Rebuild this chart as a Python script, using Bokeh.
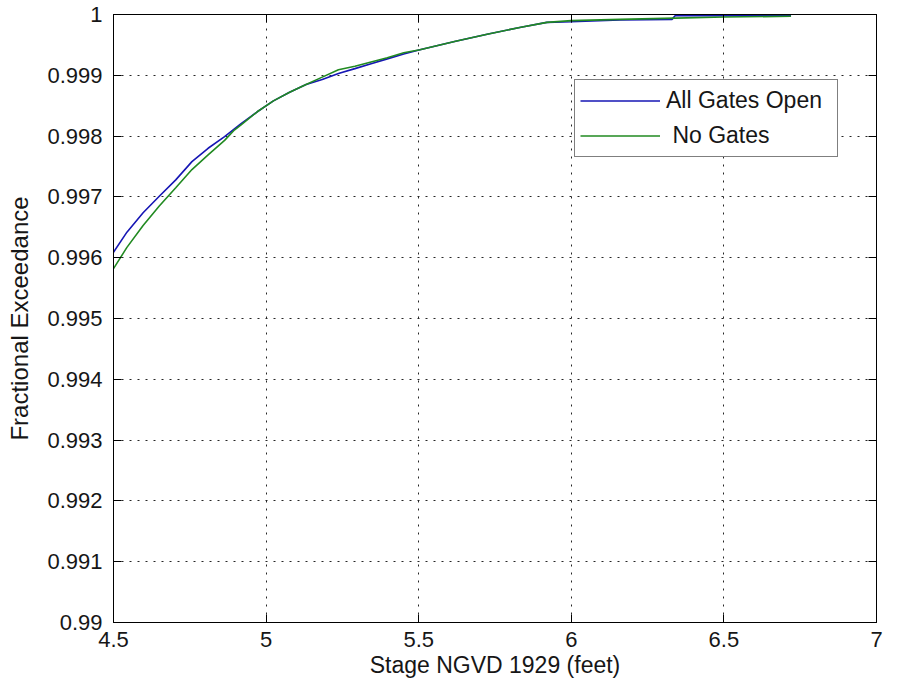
from bokeh.plotting import figure
from bokeh.models import Range1d, FixedTicker, LinearAxis, Legend, LegendItem
from bokeh.embed import file_html
from bokeh.resources import INLINE

# ---- data ----
stage_open = [4.500, 4.544, 4.597, 4.650, 4.704, 4.757, 4.810, 4.864, 4.917,
              4.971, 5.024, 5.077, 5.131, 5.184, 5.237, 5.291, 5.344, 5.397,
              5.451, 5.504, 5.621, 5.728, 5.835, 5.920, 6.000, 6.160, 6.330,
              6.340, 6.720]
exceed_open = [0.99609, 0.99642, 0.99674, 0.99701, 0.99728, 0.99758, 0.99780,
               0.99799, 0.99820, 0.99840, 0.99858, 0.99872, 0.99885, 0.99893,
               0.99903, 0.99911, 0.99919, 0.99927, 0.99935, 0.99942, 0.99956,
               0.99968, 0.99979, 0.99987, 0.99988, 0.99991, 0.99992, 0.99998,
               0.99998]

stage_none = [4.500, 4.544, 4.597, 4.650, 4.704, 4.757, 4.810, 4.864, 4.896,
              4.917, 4.971, 5.024, 5.077, 5.131, 5.184, 5.237, 5.291, 5.344,
              5.397, 5.451, 5.504, 5.621, 5.728, 5.835, 5.920, 6.000, 6.160,
              6.340, 6.500, 6.720]
exceed_none = [0.99582, 0.99617, 0.99653, 0.99685, 0.99715, 0.99745, 0.99769,
               0.99793, 0.99810, 0.99818, 0.99840, 0.99858, 0.99872, 0.99885,
               0.99897, 0.99909, 0.99915, 0.99922, 0.99929, 0.99937, 0.99942,
               0.99956, 0.99968, 0.99979, 0.99987, 0.99990, 0.99992, 0.99994,
               0.99996, 0.99997]

series_names = ["All Gates Open", " No Gates"]
series_colors = ["#1616b4", "#218a21"]

x_ticks = [4.5, 5, 5.5, 6, 6.5, 7]
x_tick_labels = ["4.5", "5", "5.5", "6", "6.5", "7"]
y_ticks = [0.99, 0.991, 0.992, 0.993, 0.994, 0.995, 0.996, 0.997, 0.998, 0.999, 1.0]
y_tick_labels = ["0.99", "0.991", "0.992", "0.993", "0.994", "0.995", "0.996",
                 "0.997", "0.998", "0.999", "1"]

x_label = "Stage NGVD 1929 (feet)"
y_label = "Fractional Exceedance"

FONT = "Liberation Sans"
TXT = "#161616"

p = figure(width=883, height=684, output_backend="svg", toolbar_location=None,
           x_range=Range1d(4.5, 7), y_range=Range1d(0.99, 1.0),
           min_border_left=113, min_border_right=7, min_border_top=14,
           min_border_bottom=62, background_fill_color="white",
           border_fill_color="white", x_axis_location=None, y_axis_location=None)
p.outline_line_color = "black"
p.outline_line_width = 1

xt = FixedTicker(ticks=x_ticks)
yt = FixedTicker(ticks=y_ticks)


def style_axis(ax, show):
    ax.major_tick_in = 8
    ax.major_tick_out = 0
    ax.minor_tick_in = 0
    ax.minor_tick_out = 0
    ax.major_tick_line_color = "black"
    ax.major_tick_line_width = 1
    ax.axis_line_color = "black"
    if show:
        ax.major_label_text_font = FONT
        ax.major_label_text_font_size = "22px"
        ax.major_label_text_color = TXT
        ax.axis_label_text_font = FONT
        ax.axis_label_text_font_style = "normal"
        ax.axis_label_text_color = TXT
    else:
        ax.major_label_text_font_size = "0px"
        ax.major_label_text_color = None
        ax.major_label_standoff = 0


bottom = LinearAxis(ticker=xt, major_label_overrides={v: s for v, s in zip(x_ticks, x_tick_labels)})
style_axis(bottom, True)
bottom.axis_label = x_label
bottom.axis_label_text_font_size = "23px"
bottom.major_label_standoff = 9
bottom.axis_label_standoff = 2
p.add_layout(bottom, "below")

left = LinearAxis(ticker=yt, major_label_overrides={v: s for v, s in zip(y_ticks, y_tick_labels)})
style_axis(left, True)
left.axis_label = y_label
left.axis_label_text_font_size = "24px"
left.major_label_standoff = 11
left.axis_label_standoff = 11
p.add_layout(left, "left")

top = LinearAxis(ticker=xt)
style_axis(top, False)
p.add_layout(top, "above")

right = LinearAxis(ticker=yt)
style_axis(right, False)
p.add_layout(right, "right")

p.xgrid.ticker = xt
p.ygrid.ticker = yt
for g in (p.xgrid, p.ygrid):
    g.grid_line_color = "#262626"
    g.grid_line_dash = "2 6"
    g.grid_line_width = 1

r1 = p.line(stage_open, exceed_open, line_color=series_colors[0], line_width=1.6)
r2 = p.line(stage_none, exceed_none, line_color=series_colors[1], line_width=1.6)

legend = Legend(items=[LegendItem(label=series_names[0], renderers=[r1]),
                       LegendItem(label=series_names[1], renderers=[r2])],
                location=(461, 465), padding=5, spacing=4, margin=0,
                glyph_height=31, label_height=31, glyph_width=80,
                label_standoff=6, label_width=166,
                border_line_color="black", border_line_width=1,
                background_fill_color="white", background_fill_alpha=1.0,
                label_text_font=FONT, label_text_font_size="23px",
                label_text_color=TXT)
p.add_layout(legend, "center")

open("out.html", "w").write(file_html(p, INLINE))
